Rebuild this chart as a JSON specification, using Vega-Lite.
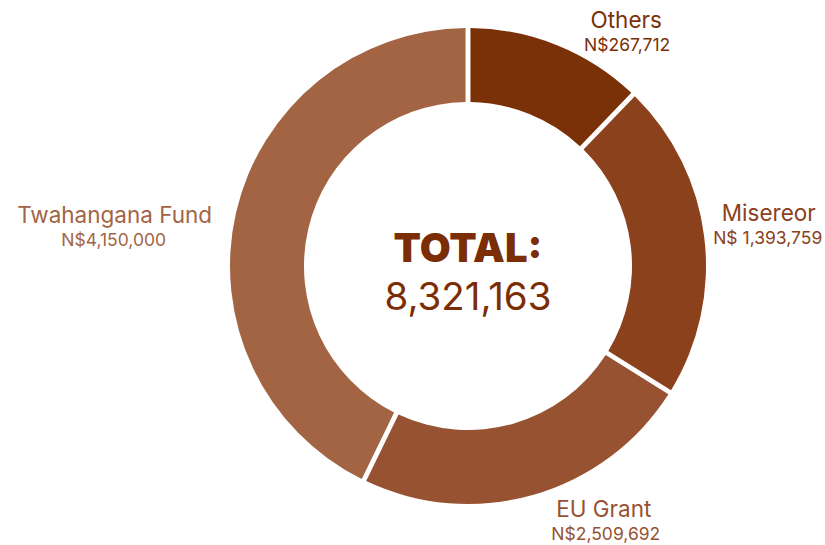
{
  "$schema": "https://vega.github.io/schema/vega-lite/v6.json",
  "width": 714,
  "height": 532,
  "autosize": "none",
  "padding": {"left": 111, "top": 0, "right": 0, "bottom": 13},
  "background": "white",
  "config": {"view": {"stroke": null}, "font": "Inter"},
  "data": {
    "values": [
      {"name": "Others", "label": "N$267,712", "amount": 267712, "share": 12.2},
      {"name": "Misereor", "label": "N$ 1,393,759", "amount": 1393759, "share": 21.7},
      {"name": "EU Grant", "label": "N$2,509,692", "amount": 2509692, "share": 23.3},
      {"name": "Twahangana Fund", "label": "N$4,150,000", "amount": 4150000, "share": 42.8}
    ]
  },
  "layer": [
    {
      "mark": {"type": "arc", "outerRadius": 238, "innerRadius": 164, "padAngle": 0.017},
      "encoding": {
        "theta": {"field": "share", "type": "quantitative", "stack": true},
        "order": {"field": "share", "type": "quantitative"},
        "color": {
          "field": "name",
          "type": "nominal",
          "scale": {
            "domain": ["Others", "Misereor", "EU Grant", "Twahangana Fund"],
            "range": ["#7B3107", "#8B411C", "#975231", "#A36444"]
          },
          "legend": null
        }
      }
    },
    {
      "mark": {
        "type": "text",
        "radius": 300,
        "fontSize": 22.5,
        "align": "center",
        "baseline": "alphabetic",
        "dx": {"expr": "datum.name === 'Others' ? 46 : datum.name === 'Misereor' ? 3 : datum.name === 'EU Grant' ? 53 : -61"},
        "dy": {"expr": "datum.name === 'Others' ? 40 : datum.name === 'Misereor' ? -8 : datum.name === 'EU Grant' ? -37 : 24"}
      },
      "encoding": {
        "theta": {"field": "share", "type": "quantitative", "stack": true},
        "order": {"field": "share", "type": "quantitative"},
        "color": {"field": "name", "type": "nominal", "legend": null},
        "text": {"field": "name", "type": "nominal"}
      }
    },
    {
      "mark": {
        "type": "text",
        "radius": 300,
        "fontSize": 17.5,
        "align": "center",
        "baseline": "alphabetic",
        "dx": {"expr": "datum.name === 'Others' ? 47 : datum.name === 'Misereor' ? 2 : datum.name === 'EU Grant' ? 55 : -62"},
        "dy": {"expr": "datum.name === 'Others' ? 63 : datum.name === 'Misereor' ? 15 : datum.name === 'EU Grant' ? -14 : 47"}
      },
      "encoding": {
        "theta": {"field": "share", "type": "quantitative", "stack": true},
        "order": {"field": "share", "type": "quantitative"},
        "color": {"field": "name", "type": "nominal", "legend": null},
        "text": {"field": "label", "type": "nominal"}
      }
    },
    {
      "transform": [{"aggregate": [{"op": "sum", "field": "amount", "as": "total"}]}],
      "mark": {"type": "text", "text": "TOTAL:", "fontSize": 40, "fontWeight": 900, "color": "#7B2E06", "align": "center", "baseline": "alphabetic", "dy": -4},
      "encoding": {}
    },
    {
      "transform": [{"aggregate": [{"op": "sum", "field": "amount", "as": "total"}]}],
      "mark": {"type": "text", "fontSize": 38.5, "color": "#7B2E06", "align": "center", "baseline": "alphabetic", "dy": 44},
      "encoding": {"text": {"field": "total", "type": "quantitative", "format": ","}}
    }
  ]
}
